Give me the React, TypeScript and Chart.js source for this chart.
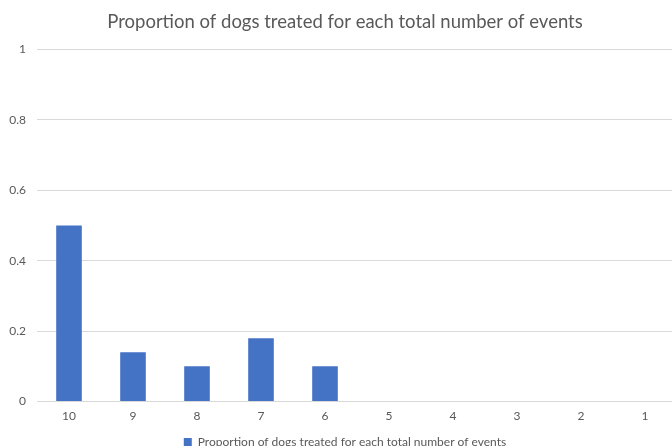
import React, { useEffect, useRef } from "react";
import { Chart, registerables } from "chart.js";

Chart.register(...registerables);

const categories = ["10", "9", "8", "7", "6", "5", "4", "3", "2", "1"];
const proportions = [0.5, 0.14, 0.1, 0.18, 0.1, 0, 0, 0, 0, 0];
const seriesName = "Proportion of dogs treated for each total number of events";
const titleText = "Proportion of dogs treated for each total number of events";
const yTicks = [0, 0.2, 0.4, 0.6, 0.8, 1];

const FONT = "Lato, 'Open Sans', sans-serif";
const TEXT = "#595959";
const GRID = "#d9d9d9";
const BAR = "#4472C4";

export default function App() {
  const ref = useRef<HTMLCanvasElement | null>(null);
  useEffect(() => {
    if (!ref.current) return;
    const chart = new Chart(ref.current, {
      type: "bar",
      data: {
        labels: categories,
        datasets: [
          {
            label: seriesName,
            data: proportions,
            backgroundColor: BAR,
            borderWidth: 0,
            categoryPercentage: 1,
            barPercentage: 0.4,
            yAxisID: "y",
          },
        ],
      },
      options: {
        responsive: false,
        animation: false,
        devicePixelRatio: 1,
        layout: { padding: { left: 0, right: 0, top: 11, bottom: 0 } },
        plugins: {
          title: {
            display: true,
            text: titleText,
            color: TEXT,
            font: { family: FONT, size: 18.5, weight: "normal" },
            padding: { top: 0, bottom: 16 },
          },
          legend: {
            position: "bottom",
            labels: {
              color: TEXT,
              font: { family: FONT, size: 12 },
              boxWidth: 8,
              boxHeight: 8,
              padding: 6,
            },
          },
          tooltip: { enabled: false },
        },
        scales: {
          x: {
            grid: { display: false, drawTicks: false },
            border: { display: true, color: GRID, width: 1 },
            ticks: { color: TEXT, font: { family: FONT, size: 12 }, padding: 7 },
          },
          y: {
            min: 0,
            max: 1,
            afterBuildTicks: (s: any) => {
              s.ticks = yTicks.map((v) => ({ value: v }));
            },
            afterFit: (s: any) => {
              s.width = 37;
            },
            grid: { color: GRID, drawTicks: false },
            border: { display: false },
            ticks: {
              color: TEXT,
              font: { family: FONT, size: 12 },
              padding: 11,
              callback: (v: any) => String(Math.round(Number(v) * 10) / 10),
            },
          },
          yRight: {
            position: "right",
            min: 0,
            max: 1,
            afterFit: (s: any) => {
              s.width = 13;
            },
            grid: { display: false, drawTicks: false },
            border: { display: false },
            ticks: { display: false },
          },
        },
      },
    });
    return () => chart.destroy();
  }, []);
  return (
    <div style={{ position: "fixed", left: 0, top: 0, width: 672, height: 446, overflow: "hidden", background: "#fff" }}>
      <canvas ref={ref} width={690} height={458} style={{ position: "absolute", left: 0, top: 0 }} />
    </div>
  );
}
